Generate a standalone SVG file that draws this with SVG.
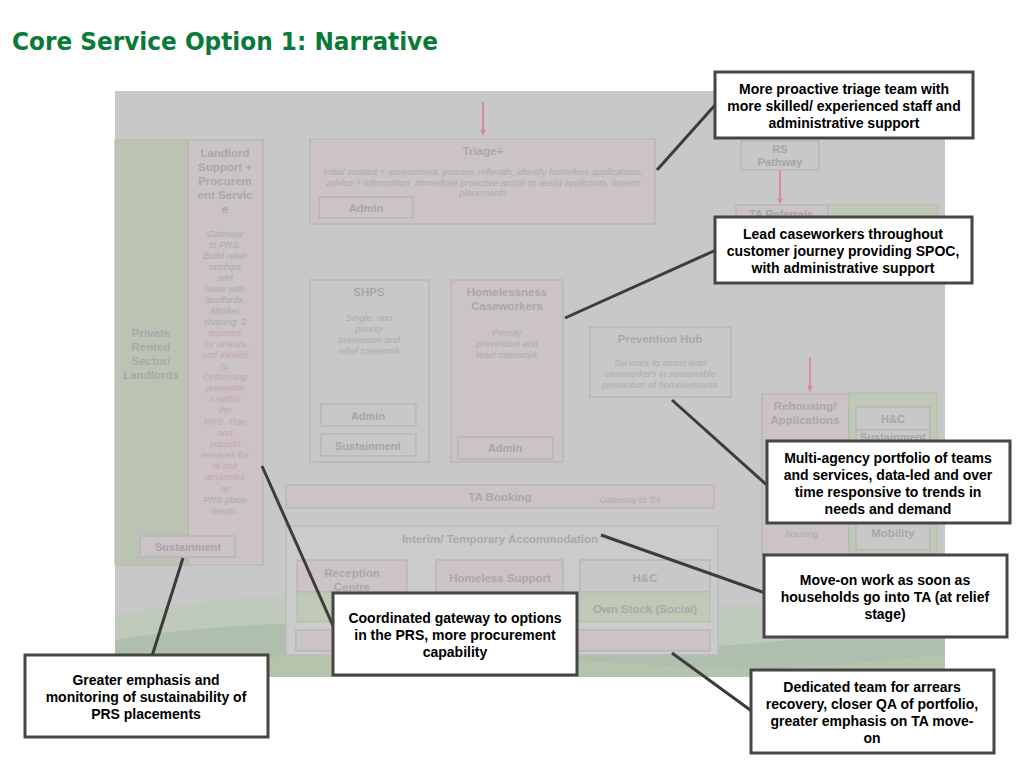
<svg xmlns="http://www.w3.org/2000/svg" width="1024" height="768" viewBox="0 0 1024 768">
<defs>
<style>
.bg{fill:#c8c8c8}
.pk{fill:#cbc3c5;stroke:#b9b6b7;stroke-width:1.5}
.gy{fill:#c8c8c8;stroke:#b6b6b6;stroke-width:1.5}
.gn{fill:#bbc4b2;stroke:#b2bcaa;stroke-width:1}
.gnb{fill:#bfc9b6;stroke:#b4bdac;stroke-width:1}
.h{font-family:"Liberation Sans",Arial,sans-serif;font-weight:bold;font-size:11.5px;fill:#a9a9a9;text-anchor:middle}
.hs{font-family:"Liberation Sans",Arial,sans-serif;font-weight:bold;font-size:11px;fill:#a6a6a6;text-anchor:middle}
.it{font-family:"Liberation Sans",Arial,sans-serif;font-style:italic;font-size:9.3px;fill:#adadad;text-anchor:middle}
.itp{font-family:"Liberation Sans",Arial,sans-serif;font-style:italic;font-size:9.3px;fill:#c9a7ad;text-anchor:middle}
.co{fill:#ffffff;stroke:#454545;stroke-width:3}
.ct{font-family:"Liberation Sans",Arial,sans-serif;font-weight:bold;font-size:14px;fill:#000000;text-anchor:middle}
.ln{stroke:#3c3c3c;stroke-width:3;fill:none}
.ar{stroke:#d98c98;stroke-width:2;fill:none;marker-end:url(#ah)}
</style>
<marker id="ah" markerWidth="6" markerHeight="6" refX="5" refY="3" orient="auto" markerUnits="userSpaceOnUse"><path d="M0,0 L6,3 L0,6 z" fill="#d98c98"/></marker>
<clipPath id="pc"><rect x="115" y="91" width="830" height="586"/></clipPath>
</defs>

<rect width="1024" height="768" fill="#ffffff"/>
<text x="12" y="50" font-family="'DejaVu Sans',Verdana,sans-serif" font-weight="bold" font-size="25" fill="#0a7a38" textLength="426" lengthAdjust="spacingAndGlyphs">Core Service Option 1: Narrative</text>

<g id="background-panel">
<rect class="bg" x="115" y="91" width="830" height="586"/>
<g clip-path="url(#pc)">
<path d="M115,615 C250,590 420,585 600,600 C760,612 860,600 945,585 L945,677 L115,677 Z" fill="#bfcabd"/>
<path d="M115,640 C260,615 430,620 560,640 C700,660 820,635 945,620 L945,677 L115,677 Z" fill="#aebfae"/>
<path d="M115,665 C300,650 500,655 700,668 C800,672 880,660 945,655 L945,677 L115,677 Z" fill="#b6c4ad"/>
</g>
</g>

<g id="private-rented-sector">
<rect class="gn" x="115" y="140" width="73" height="425"/>
<text class="h" x="151" y="337">Private</text>
<text class="h" x="151" y="351">Rented</text>
<text class="h" x="151" y="365">Sector/</text>
<text class="h" x="151" y="379">Landlords</text>
</g>

<g id="landlord-support">
<rect class="pk" x="188" y="140" width="75" height="425"/>
<text class="h" x="225" y="157">Landlord</text>
<text class="h" x="225" y="171">Support +</text>
<text class="h" x="225" y="185">Procurem</text>
<text class="h" x="225" y="199">ent Servic</text>
<text class="h" x="225" y="213">e</text>
<text class="it" x="225" y="237">Gateway</text>
<text class="it" x="225" y="248">to PRS.</text>
<text class="it" x="225" y="259">Build relati</text>
<text class="it" x="225" y="270">onships</text>
<text class="it" x="225" y="281">and</text>
<text class="it" x="225" y="292">liaise with</text>
<text class="it" x="225" y="303">landlords.</text>
<text class="it" x="225" y="314">Market</text>
<text class="it" x="225" y="325">shaping. 2</text>
<text class="itp" x="225" y="336">sources</text>
<text class="itp" x="225" y="347">for arrears</text>
<text class="itp" x="225" y="358">and invalidi</text>
<text class="itp" x="225" y="369">ty.</text>
<text class="itp" x="225" y="380">Optimising</text>
<text class="itp" x="225" y="391">preventio</text>
<text class="itp" x="225" y="402">n within</text>
<text class="itp" x="225" y="413">the</text>
<text class="itp" x="225" y="425">PRS. Tide</text>
<text class="itp" x="225" y="436">and</text>
<text class="itp" x="225" y="447">support</text>
<text class="itp" x="225" y="458">services for</text>
<text class="itp" x="225" y="469">at risk</text>
<text class="itp" x="225" y="480">tenancies</text>
<text class="it" x="225" y="492">or</text>
<text class="it" x="225" y="503">PRS place</text>
<text class="it" x="225" y="514">ments.</text>
</g>

<g id="sustainment-left">
<rect class="pk" x="140" y="536" width="95" height="21"/>
<text class="hs" x="188" y="551">Sustainment</text>
</g>

<g id="triage">
<rect class="pk" x="310" y="139" width="345" height="85"/>
<text class="h" x="483" y="155">Triage+</text>
<text class="it" x="483" y="175">Initial contact + assessment, process referrals, identify homeless applications,</text>
<text class="it" x="483" y="186">advice + information, immediate proactive action to assist applicants, interim</text>
<text class="it" x="483" y="196">placements</text>
<rect class="pk" x="319" y="197" width="94" height="21"/>
<text class="hs" x="366" y="212">Admin</text>
</g>

<g id="rs-pathway">
<rect class="gy" x="741" y="141" width="78" height="29"/>
<text class="hs" x="780" y="153">RS</text>
<text class="hs" x="780" y="166">Pathway</text>
</g>

<g id="ta-referrals">
<rect class="pk" x="736" y="205" width="92" height="40"/>
<text class="hs" x="781" y="218">TA Referrals</text>
<rect class="gnb" x="828" y="205" width="110" height="40"/>
</g>

<g id="shps">
<rect class="gy" x="310" y="280" width="119" height="182"/>
<text class="h" x="369" y="296">SHPS</text>
<text class="it" x="369" y="321">Single, non</text>
<text class="it" x="369" y="332">priority</text>
<text class="it" x="369" y="343">prevention and</text>
<text class="it" x="369" y="354">relief casework</text>
<rect class="gy" x="321" y="404" width="95" height="22"/>
<text class="hs" x="368" y="420">Admin</text>
<rect class="gy" x="321" y="434" width="95" height="22"/>
<text class="hs" x="368" y="450">Sustainment</text>
</g>

<g id="homelessness-caseworkers">
<rect class="pk" x="451" y="280" width="112" height="182"/>
<text class="h" x="507" y="296">Homelessness</text>
<text class="h" x="507" y="310">Caseworkers</text>
<text class="it" x="507" y="336">Priority</text>
<text class="it" x="507" y="347">prevention and</text>
<text class="it" x="507" y="358">relief casework</text>
<rect class="pk" x="458" y="437" width="95" height="22"/>
<text class="hs" x="505" y="452">Admin</text>
</g>

<g id="prevention-hub">
<rect class="gy" x="590" y="327" width="141" height="70" stroke-width="2.5"/>
<text class="h" x="660" y="343">Prevention Hub</text>
<text class="it" x="660" y="366">Services to assist lead</text>
<text class="it" x="660" y="377">caseworkers in sustainable</text>
<text class="it" x="660" y="388">prevention of homelessness</text>
</g>

<g id="rehousing">
<rect class="pk" x="762" y="394" width="87" height="161"/>
<text class="h" x="805" y="410">Rehousing/</text>
<text class="h" x="805" y="424">Applications</text>
<text class="it" x="802" y="537">housing</text>
</g>

<g id="hc-right">
<rect class="gnb" x="849" y="393" width="88" height="162"/>
<rect class="gy" x="856" y="407" width="74" height="23"/>
<text class="hs" x="893" y="423">H&amp;C</text>
<rect class="gy" x="856" y="430" width="74" height="15"/>
<text class="hs" x="893" y="441" font-size="9">Sustainment</text>
<rect class="gy" x="856" y="520" width="74" height="30"/>
<text class="h" x="893" y="537">Mobility</text>
</g>

<g id="ta-booking">
<rect class="pk" x="286" y="485" width="428" height="23"/>
<text class="h" x="500" y="501">TA Booking</text>
<text class="it" x="630" y="503">Gateway to TA</text>
</g>

<g id="interim-ta">
<rect x="286" y="526" width="432" height="129" fill="#cbcbcb" stroke="#bcbcbc" stroke-width="1.5"/>
<text class="h" x="500" y="543">Interim/ Temporary Accommodation</text>
<rect class="pk" x="297" y="560" width="110" height="32"/>
<text class="h" x="352" y="577">Reception</text>
<text class="h" x="352" y="591">Centre</text>
<rect class="gnb" x="297" y="592" width="110" height="30"/>
<rect class="pk" x="436" y="560" width="127" height="32"/>
<text class="h" x="500" y="582">Homeless Support</text>
<rect class="gnb" x="436" y="592" width="127" height="30"/>
<rect class="gy" x="580" y="560" width="130" height="32"/>
<text class="h" x="645" y="582">H&amp;C</text>
<rect class="gnb" x="580" y="592" width="130" height="30"/>
<text class="h" x="645" y="613">Own Stock (Social)</text>
<rect class="pk" x="296" y="630" width="414" height="21"/>
</g>

<g id="flow-arrows">
<line class="ar" x1="483" y1="102" x2="483" y2="135"/>
<line class="ar" x1="780" y1="171" x2="780" y2="203"/>
<line class="ar" x1="810" y1="358" x2="810" y2="391"/>
</g>

<g id="connectors">
<line class="ln" x1="657" y1="170" x2="716" y2="104"/>
<line class="ln" x1="565" y1="318" x2="716" y2="250"/>
<line class="ln" x1="672" y1="400" x2="769" y2="487"/>
<line class="ln" x1="601" y1="535" x2="765" y2="593"/>
<line class="ln" x1="672" y1="653" x2="753" y2="712"/>
<line class="ln" x1="262" y1="466" x2="334" y2="628"/>
<line class="ln" x1="183" y1="558" x2="152" y2="656"/>
</g>

<g id="callout-triage">
<rect class="co" x="715" y="72" width="258" height="66"/>
<text class="ct" x="844" y="94">More proactive triage team with</text>
<text class="ct" x="844" y="111">more skilled/ experienced staff and</text>
<text class="ct" x="844" y="128">administrative support</text>
</g>

<g id="callout-lead">
<rect class="co" x="715" y="217" width="257" height="66"/>
<text class="ct" x="843" y="239">Lead caseworkers throughout</text>
<text class="ct" x="843" y="256">customer journey providing SPOC,</text>
<text class="ct" x="843" y="273">with administrative support</text>
</g>

<g id="callout-multiagency">
<rect class="co" x="767" y="441" width="243" height="82"/>
<text class="ct" x="888" y="463">Multi-agency portfolio of teams</text>
<text class="ct" x="888" y="480">and services, data-led and over</text>
<text class="ct" x="888" y="497">time responsive to trends in</text>
<text class="ct" x="888" y="514">needs and demand</text>
</g>

<g id="callout-moveon">
<rect class="co" x="764" y="555" width="243" height="82"/>
<text class="ct" x="885" y="585">Move-on work as soon as</text>
<text class="ct" x="885" y="602">households go into TA (at relief</text>
<text class="ct" x="885" y="619">stage)</text>
</g>

<g id="callout-dedicated">
<rect class="co" x="751" y="670" width="243" height="83"/>
<text class="ct" x="872" y="692">Dedicated team for arrears</text>
<text class="ct" x="872" y="709">recovery, closer QA of portfolio,</text>
<text class="ct" x="872" y="726">greater emphasis on TA move-</text>
<text class="ct" x="872" y="743">on</text>
</g>

<g id="callout-coordinated">
<rect class="co" x="333" y="593" width="244" height="82"/>
<text class="ct" x="455" y="623">Coordinated gateway to options</text>
<text class="ct" x="455" y="640">in the PRS, more procurement</text>
<text class="ct" x="455" y="657">capability</text>
</g>

<g id="callout-greater">
<rect class="co" x="25" y="655" width="243" height="82"/>
<text class="ct" x="146" y="685">Greater emphasis and</text>
<text class="ct" x="146" y="702">monitoring of sustainability of</text>
<text class="ct" x="146" y="719">PRS placements</text>
</g>
</svg>
